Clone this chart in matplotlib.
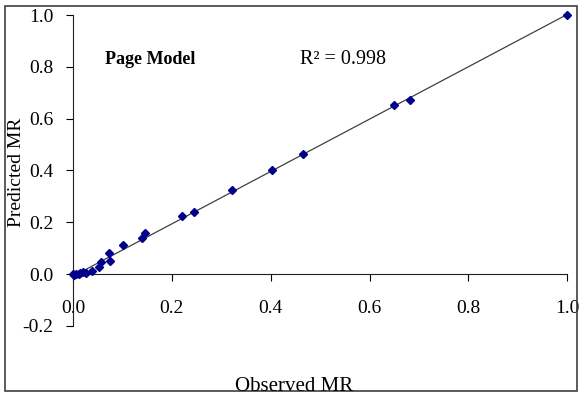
import numpy as np
import matplotlib
matplotlib.use('Agg')
import matplotlib.pyplot as plt
from matplotlib.patches import Rectangle

# ====== 数据 (observed vs predicted MR) ======
observed = [1.0, 0.681, 0.650, 0.466, 0.403, 0.322, 0.245, 0.221, 0.146, 0.139,
            0.101, 0.073, 0.075, 0.056, 0.052, 0.038, 0.026, 0.021, 0.014, 0.011,
            0.006, 0.002, 0.0]
predicted = [1.0, 0.672, 0.651, 0.462, 0.400, 0.324, 0.239, 0.224, 0.159, 0.138,
             0.111, 0.080, 0.051, 0.046, 0.026, 0.012, 0.006, 0.010, 0.004, 0.002,
             0.0, -0.003, 0.0]
x_ticks = [0.0, 0.2, 0.4, 0.6, 0.8, 1.0]
y_ticks = [-0.2, 0.0, 0.2, 0.4, 0.6, 0.8, 1.0]

plt.rcParams['font.family'] = ['Liberation Serif', 'DejaVu Serif']

fig = plt.figure(figsize=(5.8, 3.96), dpi=100)
ax = fig.add_axes([0.126, 0.177, 0.852, 0.785])

# 坐标轴样式 (spine 位置先设, 否则会重置刻度)
ax.spines['top'].set_visible(False)
ax.spines['right'].set_visible(False)
ax.spines['bottom'].set_position(('data', 0))
for s in ('left', 'bottom'):
    ax.spines[s].set_color('#202020')

# trend line
k, b = np.polyfit(observed, predicted, 1)
lx = np.array([0.0, 1.0])
ax.plot(lx, k*lx + b, color='#404040', linewidth=0.9, zorder=2)
ax.plot(observed, predicted, linestyle='none', marker='D', markersize=3.8,
        color='#00008B', clip_on=False, zorder=3)

ax.set_xlim(0, 1.0)
ax.set_ylim(-0.2, 1.0)
ax.set_xticks(x_ticks)
ax.set_yticks(y_ticks)
ax.set_xticklabels([f'{v:.1f}' for v in x_ticks])
ax.set_yticklabels([f'{v:.1f}' for v in y_ticks])
ax.tick_params(axis='x', direction='out', length=5, pad=14, labelsize=14)
ax.tick_params(axis='y', direction='out', length=5, pad=9, labelsize=14)

ax.text(0.065, 0.83, 'Page Model', fontsize=13, fontweight='bold', va='center')
ax.text(0.46, 0.83, 'R² = 0.998', fontsize=14.5, va='center')

fig.text(0.507, 0.024, 'Observed MR', fontsize=15, ha='center', va='center')
fig.text(0.028, 0.565, 'Predicted MR', fontsize=14, ha='center', va='center',
         rotation=90)

# 外框
fig.patches.append(Rectangle((0.009, 0.012), 0.986, 0.973, transform=fig.transFigure,
                             fill=False, edgecolor='#404040', linewidth=1.2))

plt.savefig('out.png', dpi=100)
plt.close()
